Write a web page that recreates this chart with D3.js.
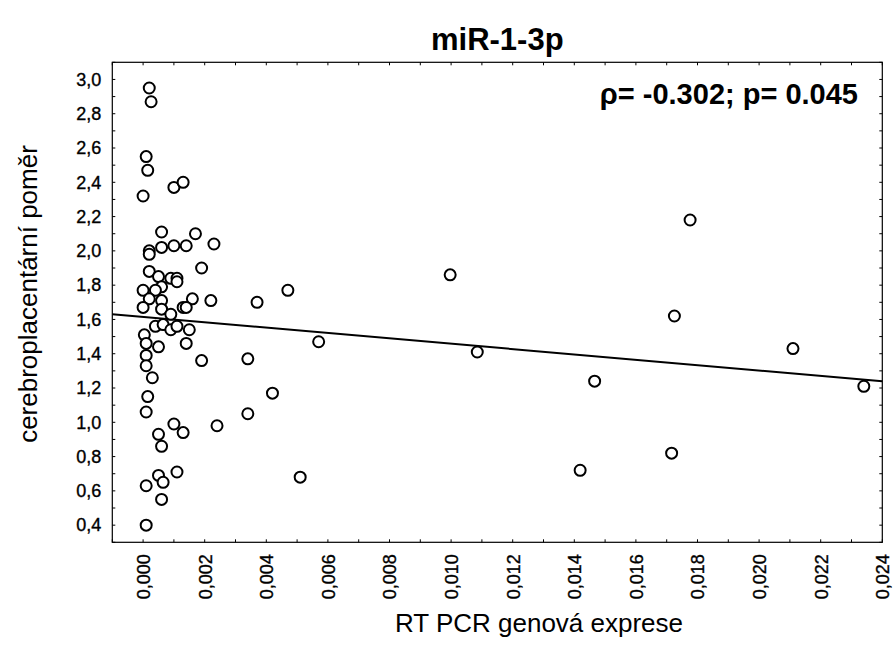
<!DOCTYPE html>
<html>
<head>
<meta charset="utf-8">
<script src="https://cdn.jsdelivr.net/npm/d3@7"></script>
<style>
  body { margin: 0; background: #fff; }
  svg { display: block; font-family: "Liberation Sans", Arial, sans-serif; }
</style>
</head>
<body>
<div id="chart"></div>
<script>
// values
const expr = [
  0.0002, 0.00026, 0.0001, 0.00015, 0.0000, 0.0010, 0.0013, 0.0006, 0.0017, 0.0002,
  0.0002, 0.0006, 0.0010, 0.0014, 0.0023, 0.0019, 0.0002, 0.0005, 0.0009, 0.0011,
  0.0011, 0.0006, 0.0000, 0.0004, 0.0047, 0.0002, 0.0016, 0.0022, 0.0037, 0.0000,
  0.0006, 0.0013, 0.0014, 0.0006, 0.0009, 0.0004, 0.00065, 0.0009, 0.0011, 0.0015,
  0.00004, 0.0001, 0.0005, 0.0014, 0.0001, 0.0001, 0.0003, 0.0019, 0.0034, 0.00015,
  0.0001, 0.0042, 0.0034, 0.0010, 0.0013, 0.0024, 0.0005, 0.0006, 0.0011, 0.0005,
  0.00065, 0.0001, 0.0006, 0.0001, 0.0051, 0.0057, 0.00997, 0.01085, 0.01466, 0.01419,
  0.01776, 0.01725, 0.0211, 0.0234, 0.01716
];
const ratio = [
  2.95, 2.87, 2.55, 2.47, 2.32, 2.37, 2.40, 2.11, 2.10, 2.00,
  1.98, 2.02, 2.03, 2.03, 2.04, 1.90, 1.88, 1.85, 1.84, 1.84,
  1.82, 1.79, 1.77, 1.77, 1.77, 1.72, 1.72, 1.71, 1.70, 1.67,
  1.71, 1.67, 1.67, 1.66, 1.63, 1.56, 1.57, 1.54, 1.56, 1.54,
  1.51, 1.46, 1.44, 1.46, 1.39, 1.33, 1.26, 1.36, 1.37, 1.15,
  1.06, 1.17, 1.05, 0.99, 0.94, 0.98, 0.93, 0.86, 0.71, 0.69,
  0.65, 0.63, 0.55, 0.40, 0.68, 1.47, 1.86, 1.41, 1.24, 0.72,
  2.18, 1.62, 1.43, 1.21, 0.82
];
// regression line end points
const fitX = [-0.001, 0.024];
const fitY = [1.63, 1.24];

const xTicks = d3.range(0, 0.0245, 0.002);
const yTicks = d3.range(0.4, 3.05, 0.2);
const xMinor = d3.range(-0.001, 0.0245, 0.001);
const yMinor = d3.range(0.3, 3.15, 0.1);

const titleText = "miR-1-3p";
const statText = "\u03c1= -0.302; p= 0.045";
const xTitle = "RT PCR genová exprese";
const yTitle = "cerebroplacentární poměr";

const W = 893, H = 659;
const margin = { top: 62.3, right: 10.7, bottom: 116.7, left: 112.3 };
const width = W - margin.left - margin.right;
const height = H - margin.top - margin.bottom;

const loc = d3.formatLocale({ decimal: ",", thousands: " ", grouping: [3], currency: ["", ""] });

const svg = d3.select("#chart").append("svg")
    .attr("width", W)
    .attr("height", H);

const g = svg.append("g")
    .attr("transform", `translate(${margin.left},${margin.top})`);

const x = d3.scaleLinear().domain([-0.001, 0.024]).range([0, width]);
const y = d3.scaleLinear().domain([0.3, 3.1]).range([height, 0]);

// inside ticks on all four sides (major and minor alike)
const tickLen = 3;
g.append("g").selectAll("line").data(xMinor).enter().append("line")
    .attr("x1", d => x(d)).attr("x2", d => x(d))
    .attr("y1", height).attr("y2", height - tickLen)
    .attr("stroke", "#000");
g.append("g").selectAll("line").data(xMinor).enter().append("line")
    .attr("x1", d => x(d)).attr("x2", d => x(d))
    .attr("y1", 0).attr("y2", tickLen)
    .attr("stroke", "#000");
g.append("g").selectAll("line").data(yMinor).enter().append("line")
    .attr("x1", 0).attr("x2", tickLen)
    .attr("y1", d => y(d)).attr("y2", d => y(d))
    .attr("stroke", "#000");
g.append("g").selectAll("line").data(yMinor).enter().append("line")
    .attr("x1", width).attr("x2", width - tickLen)
    .attr("y1", d => y(d)).attr("y2", d => y(d))
    .attr("stroke", "#000");

// tick labels through the library axes, tick lines hidden
const xAxis = g.append("g")
    .attr("transform", `translate(0,${height})`)
    .call(d3.axisBottom(x).tickValues(xTicks).tickSize(0).tickPadding(0).tickFormat(loc.format(".3f")));
xAxis.select(".domain").remove();
xAxis.selectAll("text")
    .attr("transform", "rotate(-90)")
    .attr("x", -12)
    .attr("y", 0)
    .attr("dy", "0.35em")
    .style("text-anchor", "end")
    .style("font-size", "18px")
    .style("font-family", "Liberation Sans, Arial, sans-serif")
    .attr("fill", "#000")
    .attr("stroke", "#000")
    .attr("stroke-width", 0.35);

const yAxis = g.append("g")
    .call(d3.axisLeft(y).tickValues(yTicks).tickSize(0).tickPadding(11).tickFormat(loc.format(".1f")));
yAxis.select(".domain").remove();
yAxis.selectAll("text")
    .style("font-size", "18px")
    .style("font-family", "Liberation Sans, Arial, sans-serif")
    .attr("fill", "#000")
    .attr("stroke", "#000")
    .attr("stroke-width", 0.35);

// frame
g.append("rect")
    .attr("width", width)
    .attr("height", height)
    .attr("fill", "none")
    .attr("stroke", "#000")
    .attr("stroke-width", 1.2);

// regression line
const line = d3.line()
    .x(d => x(d[0]))
    .y(d => y(d[1]));
g.append("path")
    .datum(d3.zip(fitX, fitY))
    .attr("fill", "none")
    .attr("stroke", "#000")
    .attr("stroke-width", 2)
    .attr("d", line);

// points
g.selectAll("circle.pt")
    .data(d3.zip(expr, ratio))
    .enter().append("circle")
    .attr("class", "pt")
    .attr("cx", d => x(d[0]))
    .attr("cy", d => y(d[1]))
    .attr("r", 5.5)
    .attr("fill", "#fff")
    .attr("stroke", "#000")
    .attr("stroke-width", 2);

// texts
svg.append("text")
    .attr("x", margin.left + width / 2)
    .attr("y", 50)
    .attr("text-anchor", "middle")
    .style("font-size", "31px")
    .style("font-weight", "bold")
    .text(titleText);

svg.append("text")
    .attr("x", 858)
    .attr("y", 104)
    .attr("text-anchor", "end")
    .style("font-size", "29px")
    .style("font-weight", "bold")
    .text(statText);

svg.append("text")
    .attr("x", 539)
    .attr("y", 632)
    .attr("text-anchor", "middle")
    .style("font-size", "26px")
    .text(xTitle);

svg.append("text")
    .attr("transform", "translate(37,294) rotate(-90)")
    .attr("text-anchor", "middle")
    .style("font-size", "26px")
    .text(yTitle);
</script>
</body>
</html>
